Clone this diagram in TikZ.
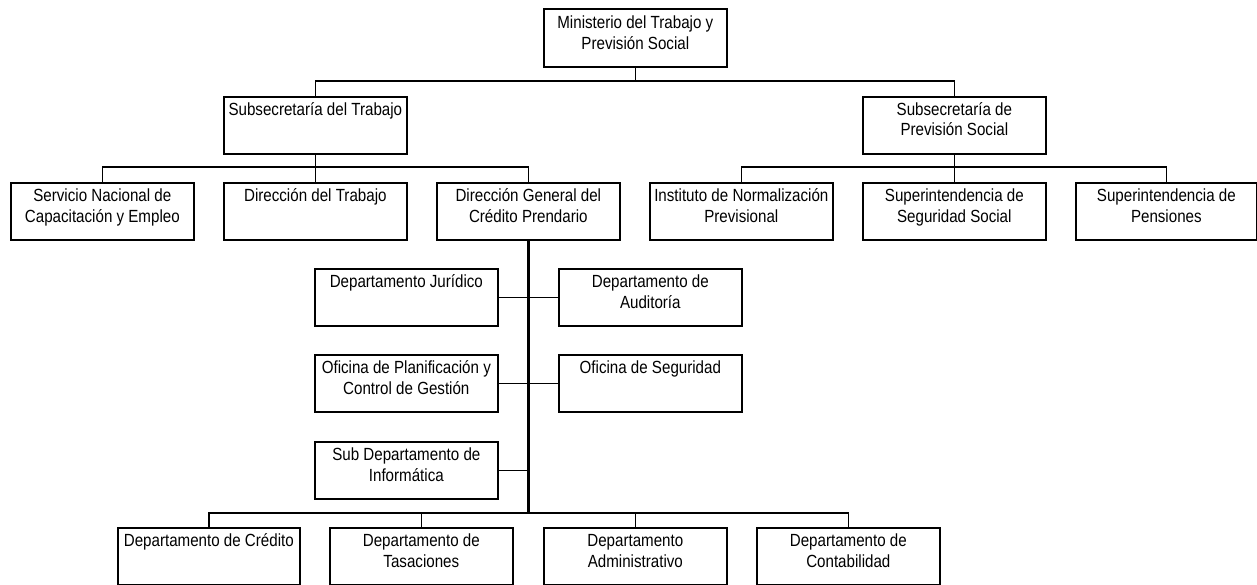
\documentclass[tikz,border=0pt]{standalone}
\usepackage{fontspec}
\setmainfont{Liberation Sans}[FakeStretch=0.86]
\tikzset{
  box/.style={draw, line width=1.25pt, rectangle, anchor=north west, inner sep=0pt,
    minimum height=42.75pt},
  lbl/.style={anchor=base, inner sep=0pt, font=\fontsize{13.2pt}{15.75pt}\selectfont},
  conn/.style={draw, line width=1.25pt, line join=miter},
  trunk/.style={draw, line width=2.2pt}
}
\newcommand\mkbox[5]{%
  \node[box, minimum width=#4*0.75pt] (#1) at (#2,#3) {};
  \node[lbl] (#1-t) at ([yshift=-14.25pt]#1.north) {\parbox[t]{150pt}{\centering #5}};
}
\begin{document}
\begin{tikzpicture}[x=0.75pt, y=-0.75pt]
\useasboundingbox (0,0) rectangle (1257,585);
% boxes
\node[box, minimum width=137.25pt, minimum height=43.5pt] (min) at (543,8) {};
\node[lbl] (min-t) at ([yshift=-15.5pt]min.north) {\parbox[t]{150pt}{\centering Ministerio del Trabajo y\\Previsión Social}};
\mkbox{subT}{223}{96}{183}{Subsecretaría del Trabajo}
\mkbox{subP}{862}{96}{183}{Subsecretaría de\\Previsión Social}
\mkbox{sence}{10}{182}{183}{Servicio Nacional de\\Capacitación y Empleo}
\mkbox{dt}{223}{182}{183}{Dirección del Trabajo}
\mkbox{dgcp}{436}{182}{183}{Dirección General del\\Crédito Prendario}
\mkbox{inp}{649}{182}{183}{Instituto de Normalización\\Previsional}
\mkbox{suss}{862}{182}{183}{Superintendencia de\\Seguridad Social}
\mkbox{sp}{1075}{182}{181}{Superintendencia de\\Pensiones}
\mkbox{dj}{314}{268}{183}{Departamento Jurídico}
\mkbox{da}{558}{268}{183}{Departamento de\\Auditoría}
\mkbox{opcg}{314}{354}{183}{Oficina de Planificación y\\Control de Gestión}
\mkbox{os}{558}{354}{183}{Oficina de Seguridad}
\mkbox{sdi}{314}{441}{183}{Sub Departamento de\\Informática}
\mkbox{dc}{117}{527}{182}{Departamento de Crédito}
\mkbox{dtas}{329}{527}{183}{Departamento de\\Tasaciones}
\mkbox{dadm}{543}{527}{183}{Departamento\\Administrativo}
\mkbox{dcont}{756}{527}{183}{Departamento de\\Contabilidad}
% bus coordinates
\coordinate (b1) at (0,81);
\coordinate (b2) at (0,167);
\coordinate (b3) at (0,513);
% level 1
\draw[conn] (min.south) -- (min.south |- b1);
\draw[conn] (subT.north) -- (subT.north |- b1) -- (subP.north |- b1) -- (subP.north);
% level 2 left
\draw[conn] (subT.south) -- (subT.south |- b2);
\draw[conn] (sence.north) -- (sence.north |- b2) -- (dgcp.north |- b2) -- (dgcp.north);
\draw[conn] (dt.north) -- (dt.north |- b2);
% level 2 right
\draw[conn] (subP.south) -- (subP.south |- b2);
\draw[conn] (inp.north) -- (inp.north |- b2) -- (sp.north |- b2) -- (sp.north);
\draw[conn] (suss.north) -- (suss.north |- b2);
% trunk
\draw[conn] (dj.east) -- (da.west);
\draw[conn] (opcg.east) -- (os.west);
\draw[conn] (sdi.east) -- (sdi.east -| dgcp.south);
\draw[conn] (dc.north) -- (dc.north |- b3) -- (dcont.north |- b3) -- (dcont.north);
\draw[conn] (dtas.north) -- (dtas.north |- b3);
\draw[conn] (dadm.north) -- (dadm.north |- b3);
\draw[trunk] (dgcp.south) -- (dgcp.south |- b3);
\end{tikzpicture}
\end{document}
